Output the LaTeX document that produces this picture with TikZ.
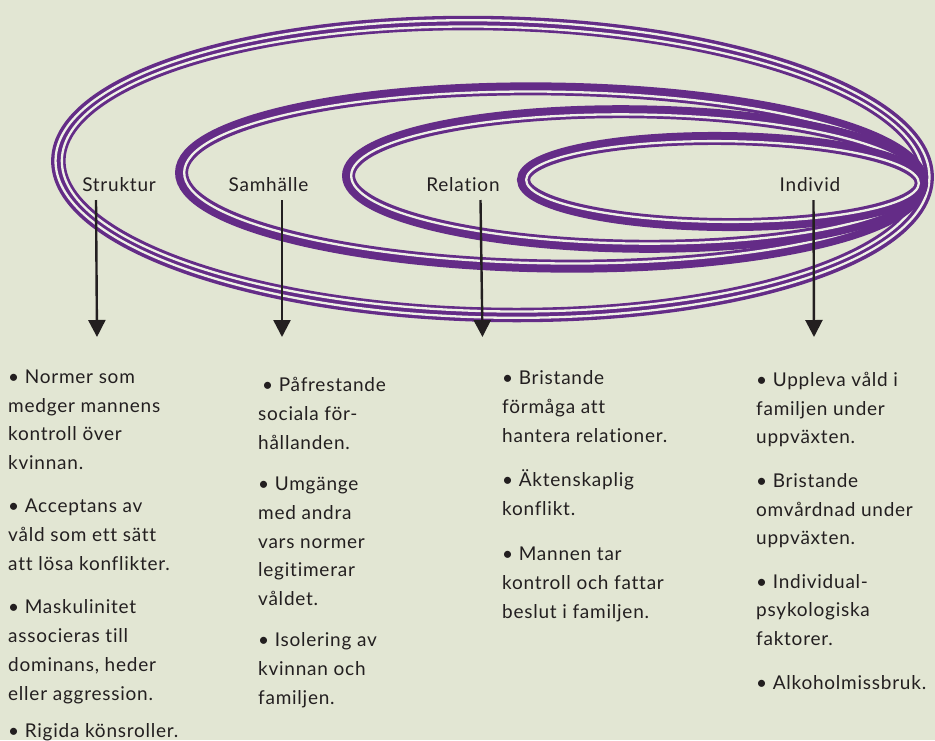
\documentclass[tikz,border=0pt]{standalone}
\usepackage{fontspec}
\setmainfont{Lato}
\newfontfamily\brodtext{Lato}[LetterSpace=4, Ligatures=NoCommon]
\usetikzlibrary{arrows.meta}
\definecolor{lila}{HTML}{642C87}
\definecolor{bakgrund}{HTML}{E2E6D3}
\definecolor{glipfarg}{HTML}{EFF1E7}
\definecolor{svart}{HTML}{231F20}
\tikzset{
  band/.style={draw=lila, line width=#1},
  glipa/.style={draw=glipfarg, line width=2.3pt},
  niva/.style={anchor=base, inner sep=0pt, text=svart, font=\brodtext\fontsize{19}{22}\selectfont},
  punkt/.style={anchor=base west, inner sep=0pt, align=left, text=svart,
    font=\brodtext\fontsize{19}{28.8}\selectfont},
  pil/.style={draw=svart, line width=2.4pt, line cap=butt, -{Triangle[length=17pt,width=17pt]}}
}
\newcommand{\luft}{14.5pt}

\begin{document}
\begin{tikzpicture}[x=1pt, y=-1pt]

\useasboundingbox (0,0) rectangle (935,740);
\fill[bakgrund] (0,0) rectangle (935,740);

% yttersta ringen: tre linjer
\begin{scope}[rotate around={-1.2:(492.5,169)}]
  \draw[band=14.5pt] (492.5,169) ellipse[x radius=434.25pt, y radius=145.75pt];
  \draw[glipa] (492.5,169) ellipse[x radius=437.05pt, y radius=148.55pt];
  \draw[glipa] (492.5,169) ellipse[x radius=430.75pt, y radius=142.25pt];
\end{scope}

% de inre ringarna: tjock + tunn linje
\foreach \cx/\cy/\rx/\ry/\tilt in {551.5/177.5/376.5/95/-0.8, 635/179/293/73.7/-0.7, 722.5/181.5/205.5/49.5/-0.5}{
  \pgfmathsetmacro\bx{\rx-6.5}
  \pgfmathsetmacro\by{\ry-6.5}
  \pgfmathsetmacro\gx{\rx-9.15}
  \pgfmathsetmacro\gy{\ry-9.15}
  \begin{scope}[rotate around={\tilt:(\cx,\cy)}]
    \draw[band=13pt] (\cx,\cy) ellipse[x radius=\bx pt, y radius=\by pt];
    \draw[glipa] (\cx,\cy) ellipse[x radius=\gx pt, y radius=\gy pt];
  \end{scope}
}

% nivaerna
\node[niva] (struktur) at (119,191) {Struktur};
\node[niva] (samhalle) at (268.5,191) {Samhälle};
\node[niva] (relation) at (463,191) {Relation};
\node[niva] (individ) at (810,191) {Individ};

\coordinate (s1) at (96,200);    \coordinate (s2) at (97,337);
\coordinate (h1) at (282,200);   \coordinate (h2) at (282,337);
\coordinate (r1) at (480.5,200); \coordinate (r2) at (482.5,337);
\coordinate (i1) at (813.5,200); \coordinate (i2) at (814,337);

\draw[pil] (s1) -- (s2);
\draw[pil] (h1) -- (h2);
\draw[pil] (r1) -- (r2);
\draw[pil] (i1) -- (i2);

% riskfaktorer (nodens bas = sista radens baslinje)
\node[punkt] (strukturtext) at (8,737) {• Normer som\\ medger mannens\\ kontroll över\\ kvinnan.\\[\luft]
  • Acceptans av\\ våld som ett sätt\\ att lösa konflikter.\\[\luft]
  • Maskulinitet\\ associeras till\\ dominans, heder\\ eller aggression.\\[8pt]
  • Rigida könsroller.};

\node[punkt] (samhalletext) at (258,704.5) {\hspace{4pt}• Påfrestande\\ sociala för-\\ hållanden.\\[12.5pt]
  • Umgänge\\ med andra\\ vars normer\\ legitimerar\\ våldet.\\[12.5pt]
  • Isolering av\\ kvinnan och\\ familjen.};

\node[punkt] (relationtext) at (502,618) {• Bristande\\ förmåga att\\ hantera relationer.\\[16pt]
  • Äktenskaplig\\ konflikt.\\[16pt]
  • Mannen tar\\ kontroll och fattar\\ beslut i familjen.};

\node[punkt] (individtext) at (756,689) {• Uppleva våld i\\ familjen under\\ uppväxten.\\[\luft]
  • Bristande\\ omvårdnad under\\ uppväxten.\\[\luft]
  • Individual-\\ psykologiska\\ faktorer.\\[\luft]
  • Alkoholmissbruk.};

\end{tikzpicture}
\end{document}
